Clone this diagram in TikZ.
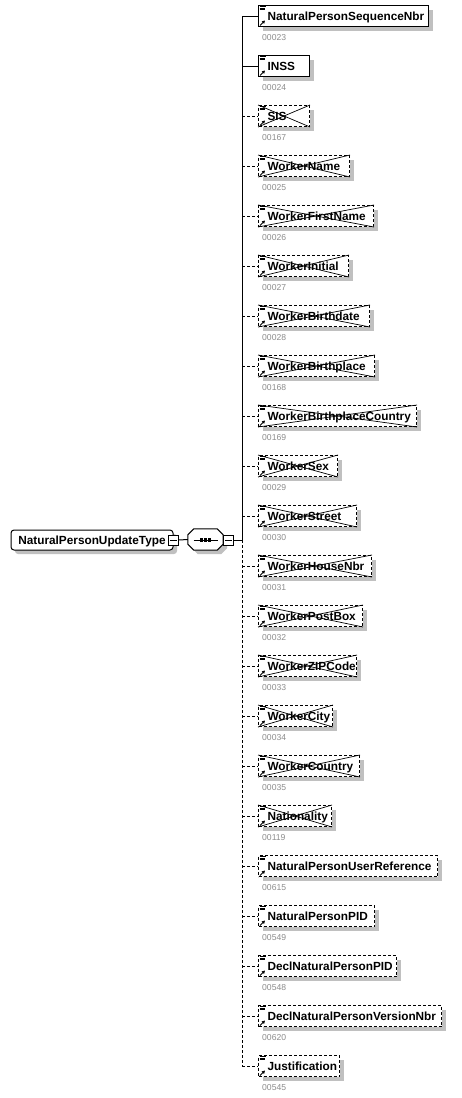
\documentclass[tikz,border=0pt]{standalone}
\usepackage{fontspec}
\setmainfont{Liberation Sans}
\usetikzlibrary{calc,shadows,arrows.meta}
\definecolor{shadowgray}{RGB}{192,192,192}
\definecolor{numgray}{RGB}{140,140,140}
\tikzset{
  myshadow/.style={drop shadow={shadow xshift=4pt,shadow yshift=-4pt,fill=shadowgray,opacity=1}},
  elbox/.style={draw=black,line width=1pt,fill=white,myshadow,minimum height=21pt,
    inner xsep=0pt,inner ysep=0pt,anchor=west,text height=10.4pt,text depth=2pt,
    font=\bfseries\fontsize{11.8}{14}\selectfont},
  optbox/.style={elbox,dash pattern=on 3pt off 2pt},
  numlbl/.style={anchor=west,inner sep=0pt,text=numgray,font=\fontsize{8.6}{10}\selectfont},
  conn/.style={line width=1pt},
  optconn/.style={line width=1pt,dash pattern=on 3pt off 2pt},
  expander/.style={draw=black,line width=1pt,fill=white,minimum size=10pt,inner sep=0pt},
  icon/.style={line width=0.9pt},
  crossline/.style={line width=0.7pt},
}
\newcommand{\elicons}[1]{%
  \draw[icon] ([shift={(1.5,1.4)}]#1.north west) -- ++(6,0);
  \draw[icon] ([shift={(1.5,3.1)}]#1.north west) -- ++(5,0);
  \draw[icon] ([shift={(1.5,4.8)}]#1.north west) -- ++(5,0);
  \draw[line width=0.9pt,-{Triangle[length=3pt,width=3.2pt]}] ([shift={(2,-1.5)}]#1.south west) -- ++(5,-5);
}
\begin{document}
\begin{tikzpicture}[x=1pt,y=-1pt]
\useasboundingbox (0,0) rectangle (461,1098);

% root type
\node[draw=black,line width=1pt,fill=white,myshadow,rounded corners=3pt,
  minimum width=162pt,minimum height=20pt,inner sep=0pt,text height=10.4pt,text depth=2pt,
  font=\bfseries\fontsize{11.8}{14}\selectfont] (root) at (92,540) {NaturalPersonUpdateType};
\node[expander] (rx) at (173,540) {};
\draw[line width=1pt] ([xshift=2pt]rx.west) -- ([xshift=-2pt]rx.east);

% sequence compositor
\node[minimum width=35pt,minimum height=21pt,inner sep=0pt] (seq) at (205.5,539.5) {};
\draw[line width=1pt,fill=white,myshadow]
  ($(seq.north west)+(0,6)$) -- ($(seq.north west)+(6,0)$) -- ($(seq.north east)+(-6,0)$) --
  ($(seq.north east)+(0,6)$) -- ($(seq.south east)+(0,-6)$) -- ($(seq.south east)+(-6,0)$) --
  ($(seq.south west)+(6,0)$) -- ($(seq.south west)+(0,-6)$) -- cycle;
\draw[line width=1pt] ($(seq.center)+(-12,0.5)$) -- ($(seq.center)+(12,0.5)$);
\foreach \dx in {-4.3,-0.3,3.7}{
  \fill ($(seq.center)+(\dx,0.5)+(-1.6,-1.6)$) rectangle ++(3.2,3.2);
}
\node[expander] (sx) at (228.5,540) {};
\draw[line width=1pt] ([xshift=2pt]sx.west) -- ([xshift=-2pt]sx.east);
\draw[conn] (rx.east) -- (seq.west);

% trunk
\coordinate (tTop) at (242,16);
\coordinate (tMid) at (242,540);
\coordinate (tBot) at (242,1066);
\draw[conn] (sx.east) -- (tMid);
\draw[conn] (tTop) -- (tMid);
\draw[optconn] (tMid) -- (tBot);

% required elements
\foreach \i/\lab/\num/\r in {1/NaturalPersonSequenceNbr/00023/428,2/INSS/00024/309}{
  \pgfmathsetmacro\yy{16+50*(\i-1)}
  \pgfmathsetmacro\ww{\r-258}
  \coordinate (b\i) at (242,\yy);
  \node[elbox,minimum width=\ww pt] (e\i) at (258,\yy) {\makebox[\ww pt][l]{\hspace{9pt}\lab}};
  \draw[conn] (b\i) -- (e\i.west);
  \elicons{e\i}
  \node[numlbl] (n\i) at ([shift={(4,21.5)}]e\i.west) {\num};
}

% deprecated (crossed) optional elements
\foreach \i/\lab/\num/\r in {3/SIS/00167/309,4/WorkerName/00025/349,5/WorkerFirstName/00026/373,
  6/WorkerInitial/00027/348,7/WorkerBirthdate/00028/369,8/WorkerBirthplace/00168/374,
  9/WorkerBirthplaceCountry/00169/416,10/WorkerSex/00029/337,11/WorkerStreet/00030/356,
  12/WorkerHouseNbr/00031/371,13/WorkerPostBox/00032/362,14/WorkerZIPCode/00033/356,
  15/WorkerCity/00034/332,16/WorkerCountry/00035/359,17/Nationality/00119/331}{
  \pgfmathsetmacro\yy{16+50*(\i-1)}
  \pgfmathsetmacro\ww{\r-258}
  \coordinate (b\i) at (242,\yy);
  \node[optbox,minimum width=\ww pt] (e\i) at (258,\yy) {\makebox[\ww pt][l]{\hspace{9pt}\lab}};
  \draw[optconn] (b\i) -- (e\i.west);
  \draw[crossline] (e\i.north west) -- (e\i.south east);
  \draw[crossline] (e\i.south west) -- (e\i.north east);
  \elicons{e\i}
  \node[numlbl] (n\i) at ([shift={(4,21.5)}]e\i.west) {\num};
}

% optional elements
\foreach \i/\lab/\num/\r in {18/NaturalPersonUserReference/00615/437,19/NaturalPersonPID/00549/374,
  20/DeclNaturalPersonPID/00548/396,21/DeclNaturalPersonVersionNbr/00620/441,22/Justification/00545/339}{
  \pgfmathsetmacro\yy{16+50*(\i-1)}
  \pgfmathsetmacro\ww{\r-258}
  \coordinate (b\i) at (242,\yy);
  \node[optbox,minimum width=\ww pt] (e\i) at (258,\yy) {\makebox[\ww pt][l]{\hspace{9pt}\lab}};
  \draw[optconn] (b\i) -- (e\i.west);
  \elicons{e\i}
  \node[numlbl] (n\i) at ([shift={(4,21.5)}]e\i.west) {\num};
}
\end{tikzpicture}
\end{document}
